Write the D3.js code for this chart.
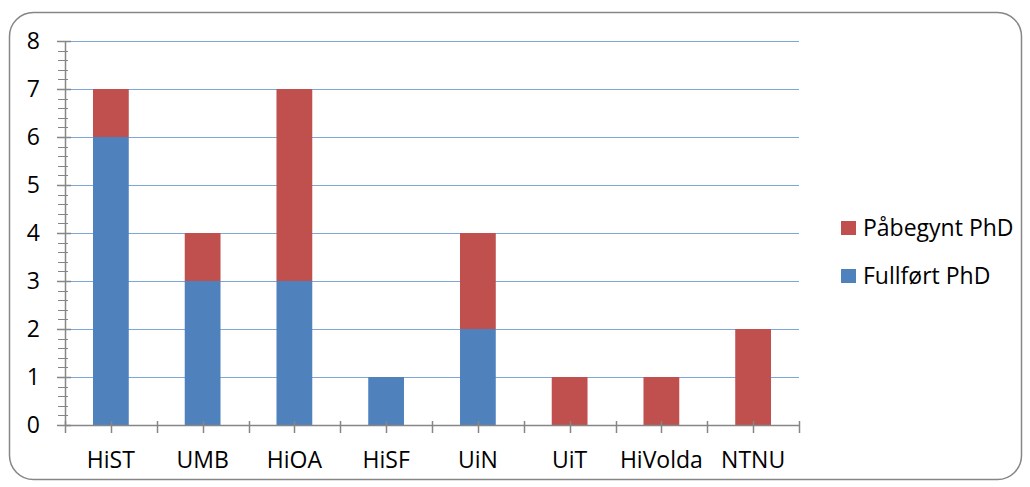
<!DOCTYPE html>
<html>
<head>
<meta charset="utf-8">
<title>PhD</title>
<script src="https://cdn.jsdelivr.net/npm/d3@7"></script>
<style>
  body { margin: 0; background: #fff; }
  text { font-family: "Open Sans", sans-serif; fill: #000; }
</style>
</head>
<body>
<svg width="1030" height="487" id="mainsvg"></svg>
<script>
const categories = ['HiST', 'UMB', 'HiOA', 'HiSF', 'UiN', 'UiT', 'HiVolda', 'NTNU']
const fullfort = [6, 3, 3, 1, 2, 0, 0, 0]
const pabegynt = [1, 1, 4, 0, 2, 1, 1, 2]
const seriesNames = ['Fullført PhD', 'Påbegynt PhD']
const seriesColors = ['#4F81BD', '#C0504D']
const yTicks = [0, 1, 2, 3, 4, 5, 6, 7, 8]

const svg = d3.select('#mainsvg')
const margin = {top: 41, left: 65, right: 231, bottom: 62}
const width = +svg.attr('width')
const height = +svg.attr('height')
const fontSize = 23

// outer frame
svg.append('rect')
  .attr('x', 9.5).attr('y', 12.5)
  .attr('width', 1012).attr('height', 467)
  .attr('rx', 24).attr('ry', 24)
  .attr('fill', '#fff')
  .attr('stroke', '#868686').attr('stroke-width', 1.5)

const x = d3.scaleBand()
  .domain(categories)
  .range([margin.left, width - margin.right])
  .paddingInner(0.61).paddingOuter(0.305)

const y = d3.scaleLinear()
  .domain([0, 8])
  .range([height - margin.bottom, margin.top])

const g = svg.append('g')

// gridlines
g.selectAll('.grid').data(yTicks.slice(1)).join('line')
  .attr('x1', margin.left).attr('x2', width - margin.right)
  .attr('y1', d => Math.round(y(d)) + 0.5).attr('y2', d => Math.round(y(d)) + 0.5)
  .attr('stroke', '#7FA6DA').attr('stroke-width', 1)

// stacked bars
const rows = categories.map((c, i) => ({cat: c, 'Fullført PhD': fullfort[i], 'Påbegynt PhD': pabegynt[i]}))
const stack = d3.stack().keys(seriesNames)(rows)

g.selectAll('.series').data(stack).join('g')
  .attr('fill', (d, i) => seriesColors[i])
  .selectAll('rect').data(d => d).join('rect')
  .attr('x', d => x(d.data.cat))
  .attr('width', x.bandwidth())
  .attr('y', d => y(d[1]))
  .attr('height', d => y(d[0]) - y(d[1]))

// y axis with minor ticks
const axisColor = '#868686'
const minor = d3.range(0, 8.001, 0.2)
g.selectAll('.minor').data(minor).join('line')
  .attr('x1', margin.left - 7).attr('x2', margin.left + 3)
  .attr('y1', d => Math.round(y(d)) + 0.5).attr('y2', d => Math.round(y(d)) + 0.5)
  .attr('stroke', axisColor)
g.selectAll('.major').data(yTicks).join('line')
  .attr('x1', margin.left - 8).attr('x2', margin.left + 6)
  .attr('y1', d => Math.round(y(d)) + 0.5).attr('y2', d => Math.round(y(d)) + 0.5)
  .attr('stroke', axisColor).attr('stroke-width', 1.5)
g.append('line')
  .attr('x1', margin.left + 0.5).attr('x2', margin.left + 0.5)
  .attr('y1', y(8)).attr('y2', y(0))
  .attr('stroke', axisColor).attr('stroke-width', 1.5)
g.selectAll('.ylab').data(yTicks).join('text')
  .attr('x', 40).attr('y', d => y(d))
  .attr('dy', '0.35em')
  .attr('text-anchor', 'end')
  .attr('font-size', fontSize)
  .text(d => d)

// x axis
g.append('line')
  .attr('x1', margin.left).attr('x2', width - margin.right)
  .attr('y1', y(0) + 0.5).attr('y2', y(0) + 0.5)
  .attr('stroke', axisColor).attr('stroke-width', 1.5)
const step = x.step()
const xTickPos = d3.range(0, categories.length * 2 + 1).map(k => margin.left + k * step / 2)
g.selectAll('.xtick').data(xTickPos).join('line')
  .attr('x1', d => Math.round(d) + 0.5).attr('x2', d => Math.round(d) + 0.5)
  .attr('y1', y(0) - 4).attr('y2', y(0) + 8)
  .attr('stroke', axisColor).attr('stroke-width', 1.5)
g.selectAll('.xlab').data(categories).join('text')
  .attr('x', d => x(d) + x.bandwidth() / 2)
  .attr('y', 468)
  .attr('text-anchor', 'middle')
  .attr('font-size', fontSize)
  .text(d => d)

// legend (Påbegynt on top)
const legendItems = [1, 0]
const legend = svg.append('g').selectAll('g').data(legendItems).join('g')
  .attr('transform', (d, i) => `translate(841, ${221 + i * 48})`)
legend.append('rect')
  .attr('width', 15).attr('height', 14)
  .attr('fill', d => seriesColors[d])
legend.append('text')
  .attr('x', 22).attr('y', 7)
  .attr('dy', '0.35em')
  .attr('font-size', fontSize)
  .text(d => seriesNames[d])
</script>
</body>
</html>
